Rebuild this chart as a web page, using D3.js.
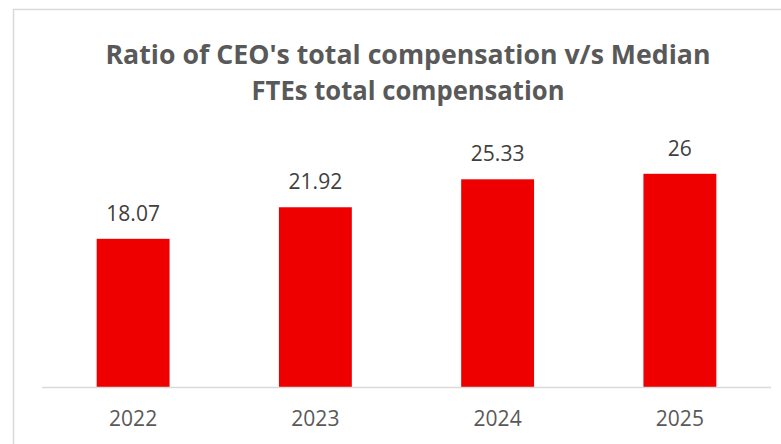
<!DOCTYPE html>
<html>
  <head>
    <meta charset="utf-8">
    <title>CEO pay ratio</title>
    <script src="https://cdn.jsdelivr.net/npm/d3@7"></script>
    <style>
      body { margin: 0; background: #fff; }
      text { font-family: "Open Sans", "Noto Sans", sans-serif; }
    </style>
  </head>
  <body>
    <script>
      // values
      var years  = ["2022", "2023", "2024", "2025"];
      var ratios = [18.07, 21.92, 25.33, 26];
      var labels = ["18.07", "21.92", "25.33", "26"];
      var titleLines = ["Ratio of CEO's total compensation v/s Median", "FTEs total compensation"];

      var data = years.map(function (y, i) {
        return { year: y, value: ratios[i], label: labels[i] };
      });

      var width = 781, height = 444;

      var svg = d3.select("body").append("svg")
        .attr("width", width)
        .attr("height", height);

      // chart frame
      svg.append("rect")
        .attr("x", 13.5).attr("y", 9.5)
        .attr("width", 800).attr("height", 500)
        .attr("fill", "none")
        .attr("stroke", "#d9d9d9")
        .attr("stroke-width", 1.5);

      var x = d3.scaleBand()
        .domain(years)
        .range([42, 771])
        .paddingInner(0.6)
        .paddingOuter(0.3);

      var y = d3.scaleLinear()
        .domain([0, 30])
        .range([387, 141]);

      // title
      svg.selectAll("text.title").data(titleLines)
        .enter().append("text")
        .attr("class", "title")
        .attr("x", 408)
        .attr("y", function (d, i) { return 64 + i * 36; })
        .attr("text-anchor", "middle")
        .attr("font-size", 27)
        .attr("font-weight", "bold")
        .attr("fill", "#595959")
        .attr("textLength", function (d, i) { return i === 0 ? 605 : 313; })
        .attr("lengthAdjust", "spacingAndGlyphs")
        .text(function (d) { return d; });

      // bars
      svg.selectAll("rect.bar").data(data)
        .enter().append("rect")
        .attr("class", "bar")
        .attr("x", function (d) { return x(d.year); })
        .attr("width", x.bandwidth())
        .attr("y", function (d) { return y(d.value); })
        .attr("height", function (d) { return y(0) - y(d.value); })
        .attr("fill", "#ee0000");

      // baseline
      svg.append("line")
        .attr("x1", x.range()[0]).attr("x2", x.range()[1])
        .attr("y1", y(0) + 0.5).attr("y2", y(0) + 0.5)
        .attr("stroke", "#d9d9d9")
        .attr("stroke-width", 1.5);

      // value labels
      svg.selectAll("text.value").data(data)
        .enter().append("text")
        .attr("class", "value")
        .attr("x", function (d) { return x(d.year) + x.bandwidth() / 2; })
        .attr("y", function (d) { return y(d.value) - 18; })
        .attr("text-anchor", "middle")
        .attr("font-size", 21)
        .attr("fill", "#404040")
        .text(function (d) { return d.label; });

      // category labels
      var xAxis = svg.append("g")
        .attr("transform", "translate(0," + y(0) + ")")
        .call(d3.axisBottom(x).tickSize(0).tickPadding(0));
      xAxis.select(".domain").remove();
      xAxis.selectAll("text")
        .attr("y", 39)
        .attr("dy", null)
        .attr("font-size", 21)
        .attr("font-family", "Open Sans, Noto Sans, sans-serif")
        .attr("fill", "#595959");
    </script>
  </body>
</html>
